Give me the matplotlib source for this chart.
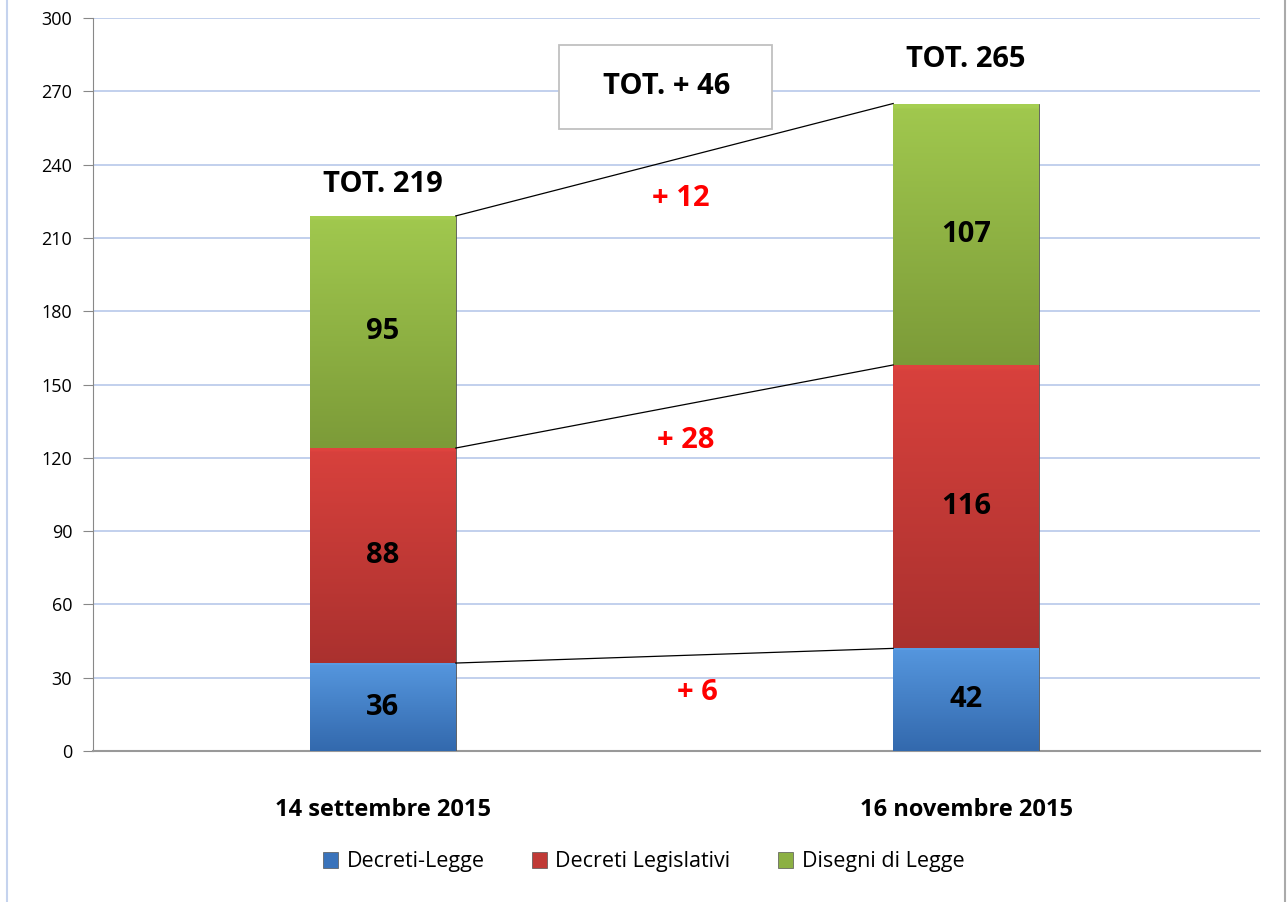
import matplotlib.pyplot as plt
from matplotlib.patches import Patch, Rectangle
from matplotlib.lines import Line2D
from matplotlib.colors import LinearSegmentedColormap
import numpy as np

plt.rcParams['font.family'] = ['Open Sans', 'DejaVu Sans']

# data
dates = ["14 settembre 2015", "16 novembre 2015"]
series_names = ["Decreti-Legge", "Decreti Legislativi", "Disegni di Legge"]
decreti_legge = [36, 42]
decreti_legislativi = [88, 116]
disegni_legge = [95, 107]

# (top colour, bottom colour, legend colour)
colors = [("#5b9ee6", "#2f64a8", "#3a73bb"),
          ("#e0443f", "#a52f2d", "#c03a36"),
          ("#a7d052", "#789636", "#8cb043")]

fig = plt.figure(figsize=(12.87, 9.02), dpi=100)
ax = fig.add_axes([93 / 1287, 1 - 751 / 902, 1167 / 1287, 733 / 902])

x = np.arange(len(dates))
width = 0.25
values = [decreti_legge, decreti_legislativi, disegni_legge]
bottoms = np.zeros(len(dates))
tops_per_series = []
for vals, (c_top, c_bot, c_leg), name in zip(values, colors, series_names):
    bars = ax.bar(x, vals, width, bottom=bottoms, color=c_leg, edgecolor="#555555",
                  linewidth=0.6, zorder=3, label=name)
    cmap = LinearSegmentedColormap.from_list("g", [c_bot, c_top])
    for b, v, bot in zip(bars, vals, bottoms):
        grad = np.linspace(1, 0.1, 100).reshape(-1, 1)
        grad[:2] = 1.12
        img = ax.imshow(grad, cmap=cmap, aspect="auto", vmin=0, vmax=1.15,
                        extent=(b.get_x(), b.get_x() + width, bot, bot + v), zorder=3.5)
        img.set_clip_path(b)
        ax.text(b.get_x() + width / 2, bot + v / 2, str(v), ha="center", va="center",
                fontsize=21, fontweight="bold", color="black", zorder=5)
    bottoms = bottoms + np.array(vals)
    tops_per_series.append(bottoms.copy())

# connecting lines and deltas
delta_pos = [(0.54, 24), (0.52, 127), (0.51, 226)]
for tops in tops_per_series:
    ax.plot([x[0] + width / 2, x[1] - width / 2], [tops[0], tops[1]],
            color="black", linewidth=0.9, zorder=4)
for vals, (tx, ty) in zip(values, delta_pos):
    ax.text(tx, ty, "+ %d" % (vals[1] - vals[0]), ha="center", va="center",
            fontsize=21, fontweight="bold", color="#ff0000", zorder=5)

totals = bottoms
ax.text(x[0], totals[0] + 13, "TOT. %d" % totals[0], ha="center", va="center",
        fontsize=21, fontweight="bold", color="black")
ax.text(x[1], totals[1] + 18, "TOT. %d" % totals[1], ha="center", va="center",
        fontsize=21, fontweight="bold", color="black")
ax.add_patch(Rectangle((0.3993, 0.8486), 0.1825, 0.1146, transform=ax.transAxes,
                       facecolor="white", edgecolor="#c0c0c0", linewidth=1.3, zorder=6))
ax.text(0.4919, 0.906, "TOT. + %d" % (totals[1] - totals[0]), ha="center", va="center",
        transform=ax.transAxes, fontsize=21, fontweight="bold", color="black", zorder=7)

ax.set_xlim(-0.497, 1.504)
ax.set_ylim(0, 300)
ax.set_yticks(np.arange(0, 301, 30))
ax.set_xticks(x)
ax.set_xticklabels(dates, fontsize=17, fontweight="bold")
ax.tick_params(axis="x", length=0, pad=34)
ax.tick_params(axis="y", length=7, color="#888888", labelsize=13, pad=8)
ax.grid(axis="y", color="#b8c8ea", linewidth=1.2, zorder=0)
ax.set_axisbelow(True)
for s in ["top", "right"]:
    ax.spines[s].set_visible(False)
ax.spines["left"].set_color("#888888")
ax.spines["bottom"].set_color("#999999")
ax.spines["bottom"].set_linewidth(1.5)

handles = [Patch(facecolor=c[2], edgecolor="#555555", linewidth=0.5) for c in colors]
fig.legend(handles, series_names, loc="center", bbox_to_anchor=(0.5, 1 - 862 / 902),
           ncol=3, frameon=False, fontsize=15.5, handlelength=0.7, handleheight=0.7,
           columnspacing=2.2, handletextpad=0.4)

fig.add_artist(Line2D([7 / 1287, 7 / 1287], [0, 1], color="#c5d3ee", linewidth=1.5))
fig.add_artist(Line2D([1285 / 1287, 1285 / 1287], [0, 1], color="#aaaaaa", linewidth=1.5))

fig.savefig("out.png", dpi=100)
